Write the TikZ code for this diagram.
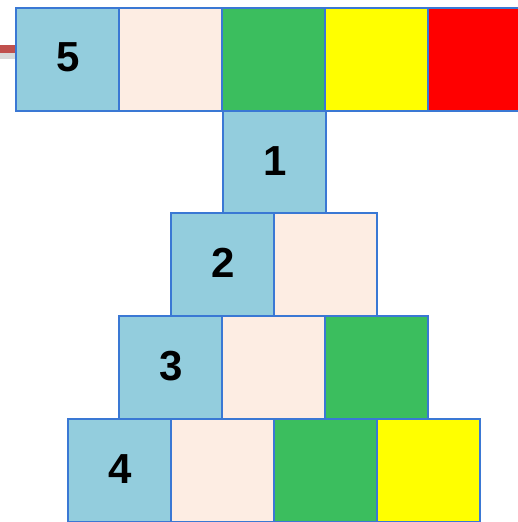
\documentclass[tikz,border=0pt]{standalone}
\usepackage{fontspec}
\setmainfont{Liberation Sans}
\definecolor{cb}{HTML}{93CDDD}
\definecolor{cp}{HTML}{FDEDE3}
\definecolor{cg}{HTML}{3BBE5E}
\definecolor{cy}{HTML}{FFFF00}
\definecolor{cr}{HTML}{FF0000}
\definecolor{edge}{HTML}{3A78D4}
\definecolor{redline}{HTML}{C0504D}
\tikzset{
  cell/.style={draw=edge, line width=2.4pt, minimum width=103pt, minimum height=103pt, inner sep=0pt, anchor=north west, font=\fontsize{42}{42}\selectfont\bfseries}
}
\begin{document}
\begin{tikzpicture}[x=1pt,y=-1pt]
\useasboundingbox (0,0) rectangle (517,522);
% red line with shadow
\fill[gray!30] (0,53) rectangle (15,59);
\draw[redline, line width=8pt] (0,49) -- (15,49);
% top row
\node[cell, fill=cb] (t1) at (15,7) {\raisebox{6pt}{5}};
\node[cell, fill=cp] (t2) at (118,7) {};
\node[cell, fill=cg] (t3) at (221,7) {};
\node[cell, fill=cy] (t4) at (324,7) {};
\node[cell, fill=cr] (t5) at (427,7) {};
% row 1
\node[cell, fill=cb] (a1) at (222,110) {\raisebox{4pt}{1}};
% row 2
\node[cell, fill=cb] (b1) at (170,212) {\raisebox{4pt}{2}};
\node[cell, fill=cp] (b2) at (273,212) {};
% row 3
\node[cell, fill=cb] (c1) at (118,315) {\raisebox{4pt}{3}};
\node[cell, fill=cp] (c2) at (221,315) {};
\node[cell, fill=cg] (c3) at (324,315) {};
% row 4
\node[cell, fill=cb] (d1) at (67,418) {\raisebox{4pt}{4}};
\node[cell, fill=cp] (d2) at (170,418) {};
\node[cell, fill=cg] (d3) at (273,418) {};
\node[cell, fill=cy] (d4) at (376,418) {};
\end{tikzpicture}
\end{document}
